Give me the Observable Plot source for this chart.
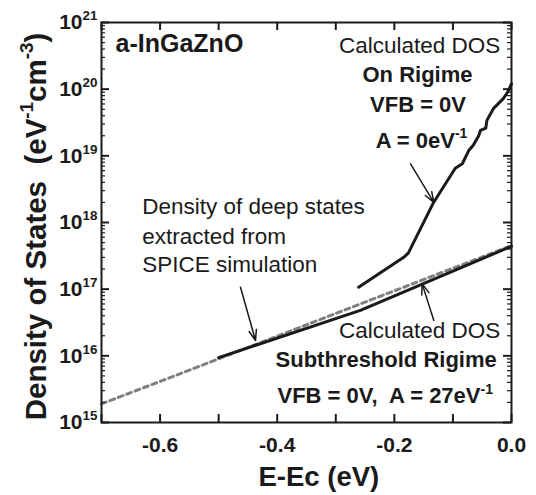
<!DOCTYPE html>
<html><head><meta charset="utf-8">
<script src="https://cdn.jsdelivr.net/npm/d3@7"></script>
<script src="https://cdn.jsdelivr.net/npm/@observablehq/plot@0.6"></script>
<style>
body{margin:0;background:#fff;}
svg{font-family:"Liberation Sans",Arial,sans-serif;}
svg text{white-space:pre;}
</style></head><body><div id="chart"></div>
<script>
// On regime calculated DOS (A = 0 eV^-1)
const onX = [-0.261, -0.184, -0.176, -0.133, -0.096, -0.084, -0.073, -0.065, -0.056, -0.053, -0.044, -0.042, -0.031, -0.014, -0.007, 0.0];
const onY = [1.07e17, 3.0e17, 3.5e17, 2.0e18, 6.5e18, 7.6e18, 1.2e19, 1.45e19, 2.0e19, 2.4e19, 2.6e19, 3.4e19, 5.1e19, 7.2e19, 8.9e19, 1.2e20];
// Subthreshold regime calculated DOS (A = 27 eV^-1)
const subX = [-0.5, -0.258, 0.0];
const subY = [9.4e15, 4.8e16, 4.4e17];
// Deep states extracted from SPICE simulation (dashed)
const spiceX = [-0.7, -0.5, -0.26, 0.0];
const spiceY = [1.9e15, 9.0e15, 5.9e16, 4.5e17];

const xTickLabels = [-0.6, -0.4, -0.2, 0.0];
const xTickMarks = [-0.7, -0.6, -0.5, -0.4, -0.3, -0.2, -0.1, 0.0];
const yDecades = [1e15, 1e16, 1e17, 1e18, 1e19, 1e20, 1e21];

const xTitle = "E-Ec (eV)";
const yTitle = "Density of States  (eV^{-1}cm^{-3})";
const material = "a-InGaZnO";
const materialX = -0.676, materialY = 3.55e20;

// annotation texts
const noteText = ["Calculated DOS", "On Rigime", "VFB = 0V", "A = 0eV^{-1}",
  "Density of deep states", "extracted from", "SPICE simulation",
  "Calculated DOS", "Subthreshold Rigime", "VFB = 0V,  A = 27eV^{-1}"];
const noteX = [-0.019, -0.1605, -0.1596, -0.1536, -0.6305, -0.6305, -0.6305, -0.019, -0.4029, -0.3995];
const noteY = [3.43e20, 1.26e20, 4.47e19, 1.33e19, 1.36e18, 4.84e17, 1.78e17, 1.88e16, 6.7e15, 1.93e15];
const noteAnchor = ["end", "middle", "middle", "middle", "start", "start", "start", "end", "start", "start"];
const noteBold = [false, true, true, true, false, false, false, false, true, true];

// arrows
const arrX1 = [-0.1724, -0.4627, -0.1326];
const arrY1 = [7.6e18, 1.07e17, 3.4e16];
const arrX2 = [-0.1326, -0.437, -0.1525];
const arrY2 = [2.0e18, 1.7e16, 1.2e17];

const yMinor = [];
for (let e = 15; e < 21; e++) for (let m = 2; m <= 9; m++) yMinor.push(m * 10 ** e);

const notes = noteText.map((t, i) => ({t, x: noteX[i], y: noteY[i], a: noteAnchor[i], b: noteBold[i]}));
const arrows = arrX1.map((d, i) => ({x1: d, y1: arrY1[i], x2: arrX2[i], y2: arrY2[i]}));
const onData = onX.map((x, i) => ({x, y: onY[i]}));
const subData = subX.map((x, i) => ({x, y: subY[i]}));
const spiceData = spiceX.map((x, i) => ({x, y: spiceY[i]}));

const W = 536, H = 495, mL = 101, mR = 25, mT = 22, mB = 73;
const fw = W - mL - mR, fh = H - mT - mB;
const ink = "#1a1a1a";
const textMark = (rows, anchor, bold) => Plot.text(rows.filter(d => d.a === anchor && d.b === bold), {
  x: "x", y: "y", text: "t", textAnchor: anchor, lineAnchor: "bottom",
  fontSize: bold ? 22 : 22.5, fontWeight: bold ? "bold" : "normal", fill: ink
});
const ticksYL = (values, len, sw) => Plot.ruleY(values, {y: d => d, stroke: ink, strokeWidth: sw, insetRight: fw - len});
const ticksYR = (values, len, sw) => Plot.ruleY(values, {y: d => d, stroke: ink, strokeWidth: sw, insetLeft: fw - len});
const ticksXB = (values, len, sw) => Plot.ruleX(values, {x: d => d, stroke: ink, strokeWidth: sw, insetTop: fh - len});
const ticksXT = (values, len, sw) => Plot.ruleX(values, {x: d => d, stroke: ink, strokeWidth: sw, insetBottom: fh - len});

const plot = Plot.plot({
  width: W, height: H,
  marginLeft: mL, marginRight: mR, marginTop: mT, marginBottom: mB,
  style: {background: "white", color: ink},
  x: {domain: [-0.7, 0], label: null, axis: null},
  y: {type: "log", domain: [1e15, 1e21], label: null, axis: null},
  marks: [
    Plot.line(spiceData, {x: "x", y: "y", stroke: "#808080", strokeWidth: 3, strokeDasharray: "5,4"}),
    Plot.line(subData, {x: "x", y: "y", stroke: ink, strokeWidth: 3}),
    Plot.line(onData, {x: "x", y: "y", stroke: ink, strokeWidth: 3, strokeLinejoin: "round"}),
    Plot.arrow(arrows, {x1: "x1", y1: "y1", x2: "x2", y2: "y2", stroke: ink, strokeWidth: 1.5, headLength: 11, headAngle: 40}),
    ticksXB(xTickMarks, 8, 2),
    ticksXT(xTickMarks, 8, 2),
    ticksYL(yDecades, 8, 2),
    ticksYL(yMinor, 4, 1.2),
    ticksYR(yDecades, 8, 2),
    ticksYR(yMinor, 4, 1.2),
    Plot.frame({strokeWidth: 2, stroke: ink}),
    Plot.axisX({anchor: "bottom", ticks: xTickLabels, tickSize: 0, stroke: "none", tickPadding: 15,
      tickFormat: d => d.toFixed(1), fontSize: 21, fontWeight: "bold", fill: ink, label: null}),
    Plot.axisY({anchor: "left", ticks: yDecades, tickSize: 0, stroke: "none", tickPadding: 4,
      tickFormat: d => "10^{" + Math.round(Math.log10(d)) + "}", fontSize: 21, fontWeight: "bold", fill: ink, label: null}),
    Plot.text([xTitle], {x: [-0.329], frameAnchor: "bottom", dy: 63, lineAnchor: "bottom", text: d => d,
      fontSize: 27.5, fontWeight: "bold", fill: ink}),
    Plot.text([yTitle], {frameAnchor: "left", rotate: -90, dx: -56, dy: 4, lineAnchor: "bottom", textAnchor: "middle",
      text: d => d, fontSize: 29.5, fontWeight: "bold", fill: ink}),
    Plot.text([material], {x: [materialX], y: [materialY], text: d => d, textAnchor: "start", lineAnchor: "bottom",
      fontSize: 25, fontWeight: "bold", fill: ink}),
    textMark(notes, "start", true),
    textMark(notes, "start", false),
    textMark(notes, "end", false),
    textMark(notes, "middle", true)
  ]
});
document.getElementById("chart").appendChild(plot);

function supify(node) {
  const t = node.textContent;
  if (!t.includes("^{")) return;
  const fs = parseFloat(getComputedStyle(node).fontSize);
  const up = fs * 0.42, sfs = fs * 0.64;
  node.textContent = "";
  let raised = false;
  for (const p of t.split(/(\^\{[^}]*\})/)) {
    if (!p) continue;
    const sp = document.createElementNS("http://www.w3.org/2000/svg", "tspan");
    if (p.startsWith("^{")) {
      sp.textContent = p.slice(2, -1);
      sp.setAttribute("font-size", sfs);
      if (!raised) { sp.setAttribute("dy", -up); raised = true; }
    } else {
      sp.textContent = p;
      if (raised) { sp.setAttribute("dy", up); raised = false; }
    }
    node.appendChild(sp);
  }
}
plot.querySelectorAll("text").forEach(supify);
</script></body></html>
